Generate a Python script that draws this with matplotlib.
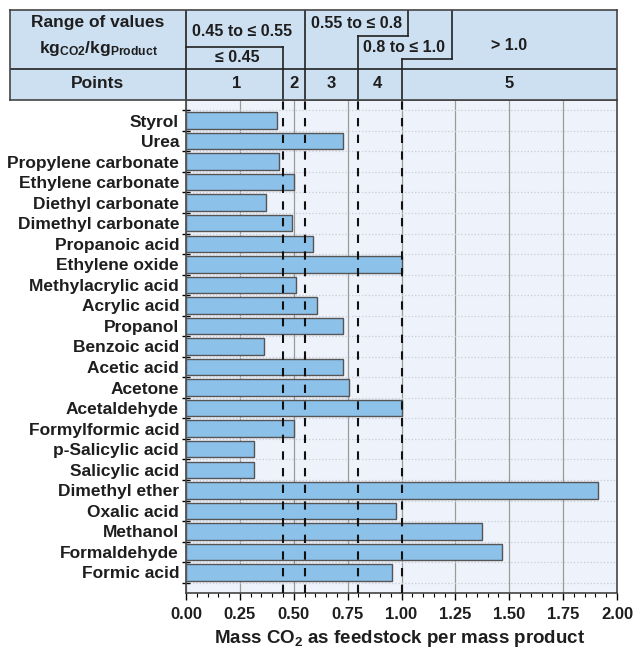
import matplotlib.pyplot as plt
import numpy as np

plt.rcParams['font.family'] = ['Liberation Sans', 'DejaVu Sans']
plt.rcParams['mathtext.fontset'] = 'custom'
plt.rcParams['mathtext.rm'] = 'Liberation Sans:bold'
plt.rcParams['mathtext.bf'] = 'Liberation Sans:bold'
plt.rcParams['mathtext.it'] = 'Liberation Sans:bold'
plt.rcParams['mathtext.default'] = 'rm'

# data (top to bottom as in the chart)
products = ['Styrol', 'Urea', 'Propylene carbonate', 'Ethylene carbonate',
            'Diethyl carbonate', 'Dimethyl carbonate', 'Propanoic acid',
            'Ethylene oxide', 'Methylacrylic acid', 'Acrylic acid', 'Propanol',
            'Benzoic acid', 'Acetic acid', 'Acetone', 'Acetaldehyde',
            'Formylformic acid', 'p-Salicylic acid', 'Salicylic acid',
            'Dimethyl ether', 'Oxalic acid', 'Methanol', 'Formaldehyde',
            'Formic acid']
mass_co2 = [0.42, 0.73, 0.43, 0.50, 0.37, 0.49, 0.59, 1.00, 0.51, 0.61, 0.73,
            0.36, 0.73, 0.755, 1.00, 0.50, 0.315, 0.315, 1.91, 0.976, 1.375,
            1.465, 0.955]
thresholds = [0.45, 0.55, 0.8, 1.0]
point_labels = ['1', '2', '3', '4', '5']
point_pos = [0.237, 0.5, 0.675, 0.89, 1.5]

header_bg = '#cde0f2'
bar_col = '#8cc1ea'
ax_bg = '#eef3fb'
txt_col = '#1e1e1e'

fig = plt.figure(figsize=(6.4, 6.51), dpi=100)
W, H = 640, 651

def px_rect(x0, y0, x1, y1):
    return [x0 / W, 1 - y1 / H, (x1 - x0) / W, (y1 - y0) / H]

ax = fig.add_axes(px_rect(186, 100, 617, 593))
ax.set_facecolor(ax_bg)

n = len(products)
ypos = np.arange(n)[::-1]
ax.barh(ypos, mass_co2, height=0.8, color=bar_col, edgecolor='#555555',
        linewidth=1.0, zorder=3)

ax.set_xlim(0, 2.0)
ax.set_ylim(-1, n)
ax.set_xticks(np.arange(0, 2.01, 0.25))
ax.set_xticks(np.arange(0, 2.01, 0.05), minor=True)
ax.set_xticklabels(['%.2f' % v for v in np.arange(0, 2.01, 0.25)],
                   fontsize=12, fontweight='bold', color=txt_col)
ax.tick_params(axis='x', which='major', direction='out', length=5, width=1, pad=5)
ax.tick_params(axis='x', which='minor', direction='out', length=3, width=0.8)

# y: labels at bar centres, tick marks at boundaries
ax.set_yticks(ypos)
ax.set_yticklabels(products, fontsize=12.5, fontweight='bold', color=txt_col)
ax.tick_params(axis='y', which='major', length=0, pad=5)
ax.set_yticks(np.arange(-0.5, n, 1.0), minor=True)
ax.tick_params(axis='y', which='minor', direction='inout', length=6, width=1)

ax.grid(axis='x', which='major', color='#9a9a9a', linewidth=0.9, zorder=1)
ax.grid(axis='y', which='minor', color='#c8ccd4', linestyle=':', linewidth=0.9, zorder=1)

for t in thresholds:
    ax.axvline(t, color='#111111', linestyle=(0, (4, 4)), linewidth=1.5, zorder=4)

for s in ax.spines.values():
    s.set_color('#444444')
    s.set_linewidth(1.2)

fig.text(400 / W, 1 - 628 / H, 'Mass CO$_2$ as feedstock per mass product',
         ha='center', va='top', fontsize=13.5, fontweight='bold', color=txt_col)

# header table, x in data units, y in pixels
hx0 = (10 - 186) / 215.5
hx1 = 2.0
hd = fig.add_axes(px_rect(10, 10, 617, 100))
hd.set_xlim(hx0, hx1)
hd.set_ylim(100, 10)
hd.set_facecolor(header_bg)
hd.set_xticks([])
hd.set_yticks([])
for s in hd.spines.values():
    s.set_color('#444444')
    s.set_linewidth(1.2)

lc = '#222222'
lw = 1.2
hd.plot([hx0, hx1], [69, 69], color=lc, lw=lw)
hd.plot([0, 0], [10, 100], color=lc, lw=lw)
hd.plot([0, 0.45], [47, 47], color=lc, lw=lw)
hd.plot([0.45, 0.45], [47, 100], color=lc, lw=lw)
hd.plot([0.55, 0.55], [10, 100], color=lc, lw=lw)
hd.plot([1.03, 1.03], [10, 36], color=lc, lw=lw)
hd.plot([0.8, 1.03], [36, 36], color=lc, lw=lw)
hd.plot([0.8, 0.8], [36, 100], color=lc, lw=lw)
hd.plot([1.235, 1.235], [10, 59], color=lc, lw=lw)
hd.plot([1.0, 1.235], [59, 59], color=lc, lw=lw)
hd.plot([1.0, 1.0], [59, 100], color=lc, lw=lw)

lx = hx0 / 2
hd.text(lx, 23, 'Range of values', ha='center', va='center', fontsize=12.5,
        fontweight='bold', color=txt_col)
hd.text(lx, 49, r'kg$_{\mathregular{CO2}}$/kg$_{\mathregular{Product}}$',
        ha='center', va='center', fontsize=12.5, fontweight='bold', color=txt_col)
hd.text(lx, 84, 'Points', ha='center', va='center', fontsize=12.5,
        fontweight='bold', color=txt_col)

hd.text(0.26, 31, '0.45 to \u2264 0.55', ha='center', va='center', fontsize=11.5,
        fontweight='bold', color=txt_col)
hd.text(0.237, 58, '\u2264 0.45', ha='center', va='center', fontsize=11.5,
        fontweight='bold', color=txt_col)
hd.text(0.79, 23, '0.55 to \u2264 0.8', ha='center', va='center', fontsize=11.5,
        fontweight='bold', color=txt_col)
hd.text(1.01, 47, '0.8 to \u2264 1.0', ha='center', va='center', fontsize=11.5,
        fontweight='bold', color=txt_col)
hd.text(1.5, 45, '> 1.0', ha='center', va='center', fontsize=11.5,
        fontweight='bold', color=txt_col)

for lab, p in zip(point_labels, point_pos):
    hd.text(p, 84, lab, ha='center', va='center', fontsize=12,
            fontweight='bold', color=txt_col)

fig.savefig('out.png', dpi=100)
